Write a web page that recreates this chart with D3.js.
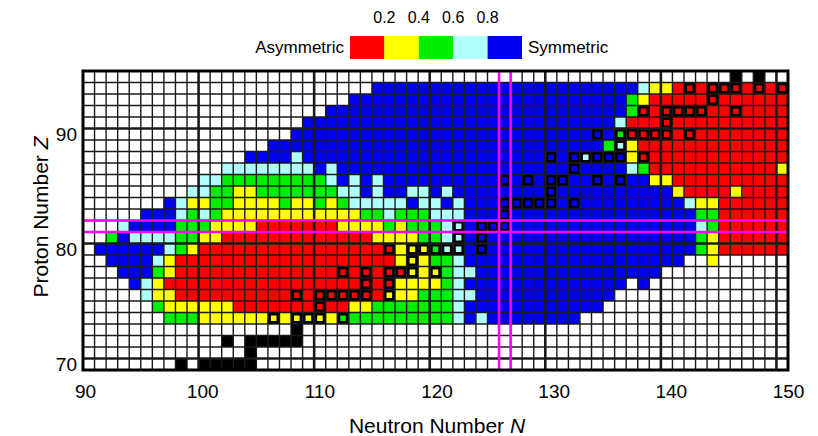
<!DOCTYPE html>
<html>
<head>
<meta charset="utf-8">
<script src="https://cdn.jsdelivr.net/npm/d3@7"></script>
<style>
  body { margin: 0; background: #fff; }
  svg { display: block; font-family: "Liberation Sans", Arial, sans-serif; }
</style>
</head>
<body>
<svg id="chart" width="818" height="436"></svg>
<script>
// Nuclide range shown on the chart
const neutronMin = 90, neutronMax = 150;
const protonMin = 70, protonMax = 95;

const xTickValues = [90, 100, 110, 120, 130, 140, 150];
const yTickValues = [70, 80, 90];

// Magic numbers marked by the magenta line pairs
const magicNeutrons = [126];
const magicProtons = [82];

// Symmetry classes (key -> colour) and the colour bar
const classKeys = ["R", "Y", "G", "C", "B"];
const classColors = ["#ff0000", "#ffff00", "#00ee00", "#b0ffff", "#0000f2"];
const legendTickLabels = ["0.2", "0.4", "0.6", "0.8"];

// One run-length encoded row per proton number, Z = 95 (top) to Z = 70 (bottom).
// Each row covers N = 90..150. Codes: "." no calculation, R/Y/G/C/B symmetry class,
// lower case = class of a nuclide with measured data (framed), K = filled black.
const rowZ95 = "56. K . K 2.";
const rowZ94 = "25. 23B C 2Y R r R 3r R r R r";
const rowZ93 = "23. 24B G Y 5R r 6R";
const rowZ92 = "21. 26B G r R 4r 2R r 4R";
const rowZ91 = "19. 27B C 3R r 10R";
const rowZ90 = "18. 26B b B g 4r R r 8R";
const rowZ89 = "16. 29B G c Y 13R";
const rowZ88 = "14. 4B C 21B b B b c 3b Y r 12R";
const rowZ87 = "12. 8C B C 20B b 4B C G 11R Y";
const rowZ86 = "10. 2C 9G C B C B C 10B b B b B 2b 2B b B b 2B 2Y 10R";
const rowZ85 = "9. 2C 2G 2Y 7G 2C B C 2B 2C B C 8B b 10B Y 4R Y 4R";
const rowZ84 = "7. B C 2Y 2G 4Y G 2Y G Y G 5C B 2C B C 3B 5b B b 9B C 2Y 6R";
const rowZ83 = "5. 3B C G C G 12Y 2G C 3G 3C 3B b 16B 2G 6R";
const rowZ82 = "3. C 4B 3G 4Y 7R 4Y G Y 3G C c B 3b 16B C G 6R";
const rowZ81 = "2. G B 4C 2G 2Y 13R 4Y 2G C c B b 18B G Y 6R";
const rowZ80 = ". 6B C G Y 16R r Y 2y g 2c B b 18B G Y 6R";
const rowZ79 = "2. 4B C Y 19R Y y Y 2G C 19B 2. Y 6.";
const rowZ78 = "3. 3B G Y 14R r R r R 2r y Y y G 2C 16B 11.";
const rowZ77 = "4. B C Y 17R r R r 4Y G C 14B . B 12.";
const rowZ76 = "5. C 2Y 10R r R 5r R y 2Y 3G 2C 12B 15.";
const rowZ75 = "6. G 6Y 7R r 2R 2Y 7G C 12B 16.";
const rowZ74 = "7. 3G 6Y y Y 3y Y g 9G C B C 8B 18.";
const rowZ73 = "18. K 42.";
const rowZ72 = "12. K . 5K 42.";
const rowZ71 = "14. K 46.";
const rowZ70 = "8. K . 5K 46.";

const chartRows = [rowZ95, rowZ94, rowZ93, rowZ92, rowZ91, rowZ90, rowZ89, rowZ88,
  rowZ87, rowZ86, rowZ85, rowZ84, rowZ83, rowZ82, rowZ81, rowZ80, rowZ79, rowZ78,
  rowZ77, rowZ76, rowZ75, rowZ74, rowZ73, rowZ72, rowZ71, rowZ70];

// ---------------------------------------------------------------------------
const svg = d3.select("#chart");

const x = d3.scaleLinear().domain([neutronMin - 0.5, neutronMax + 0.5]).range([83, 788]);
const y = d3.scaleLinear().domain([protonMin - 0.5, protonMax + 0.5]).range([370, 71]);
// tick labels sit on a slightly wider spacing than the cell columns
const xLabel = d3.scaleLinear().domain([neutronMin, neutronMax]).range([85, 788]);
const color = d3.scaleOrdinal().domain(classKeys).range(classColors);

function decodeRow(str) {
  const out = [];
  str.trim().split(/\s+/).forEach(tok => {
    const m = tok.match(/^(\d*)(.)$/);
    const n = m[1] === "" ? 1 : +m[1];
    for (let i = 0; i < n; i++) out.push(m[2]);
  });
  return out;
}

const cells = [];
chartRows.forEach((row, i) => {
  const z = protonMax - i;
  decodeRow(row).forEach((code, j) => {
    if (code !== ".") cells.push({ n: neutronMin + j, z, code });
  });
});

const cw = x(1) - x(0);
const ch = y(0) - y(1);
const plotLeft = x(neutronMin - 0.5), plotRight = x(neutronMax + 0.5);
const plotTop = y(protonMax + 0.5), plotBottom = y(protonMin - 0.5);

// plot background
svg.append("rect")
  .attr("x", plotLeft).attr("y", plotTop)
  .attr("width", plotRight - plotLeft).attr("height", plotBottom - plotTop)
  .attr("fill", "#fff");

const cellG = svg.append("g");
cellG.selectAll("rect.cell")
  .data(cells)
  .join("rect")
  .attr("class", "cell")
  .attr("x", d => x(d.n - 0.5))
  .attr("y", d => y(d.z + 0.5))
  .attr("width", cw)
  .attr("height", ch)
  .attr("fill", d => {
    if (d.code === "K") return "#000";
    if (d.code === d.code.toLowerCase()) return "#000";
    return color(d.code);
  });

// framed (measured) nuclides: small coloured square inside a black cell
const inner = 0.48;
cellG.selectAll("rect.mark")
  .data(cells.filter(d => d.code !== "K" && d.code === d.code.toLowerCase()))
  .join("rect")
  .attr("class", "mark")
  .attr("x", d => x(d.n) - cw * inner / 2)
  .attr("y", d => y(d.z) - ch * inner / 2)
  .attr("width", cw * inner)
  .attr("height", ch * inner)
  .attr("fill", d => color(d.code.toUpperCase()));

// grid
const gridG = svg.append("g");
const nLines = d3.range(neutronMin + 0.5, neutronMax + 0.5, 1);
const zLines = d3.range(protonMin + 0.5, protonMax + 0.5, 1);
gridG.selectAll("line.v")
  .data(nLines)
  .join("line")
  .attr("x1", d => x(d)).attr("x2", d => x(d))
  .attr("y1", plotTop).attr("y2", plotBottom)
  .attr("stroke", "#1a1a1a")
  .attr("stroke-width", d => (Math.round(d + 0.5) % 10 === 0) ? 2.6 : 1.4);
gridG.selectAll("line.h")
  .data(zLines)
  .join("line")
  .attr("y1", d => y(d)).attr("y2", d => y(d))
  .attr("x1", plotLeft).attr("x2", plotRight)
  .attr("stroke", "#1a1a1a")
  .attr("stroke-width", d => (Math.round(d - 0.5) % 10 === 0) ? 2.6 : 1.4);

// magic-number lines
const magicG = svg.append("g").attr("stroke", "#ff00ff").attr("stroke-width", 2.6);
magicNeutrons.forEach(n => {
  [n - 0.5, n + 0.5].forEach(v => {
    magicG.append("line")
      .attr("x1", x(v)).attr("x2", x(v))
      .attr("y1", plotTop).attr("y2", plotBottom);
  });
});
magicProtons.forEach(z => {
  [z - 0.5, z + 0.5].forEach(v => {
    magicG.append("line")
      .attr("y1", y(v)).attr("y2", y(v))
      .attr("x1", plotLeft).attr("x2", plotRight);
  });
});

// frame
svg.append("rect")
  .attr("x", plotLeft).attr("y", plotTop)
  .attr("width", plotRight - plotLeft).attr("height", plotBottom - plotTop)
  .attr("fill", "none").attr("stroke", "#000").attr("stroke-width", 3);

// axes
const xAxis = svg.append("g")
  .attr("transform", `translate(0,${plotBottom})`)
  .call(d3.axisBottom(xLabel).tickValues(xTickValues).tickSize(0).tickPadding(15).tickFormat(d3.format("d")));
const yAxis = svg.append("g")
  .attr("transform", `translate(${plotLeft},0)`)
  .call(d3.axisLeft(y).tickValues(yTickValues).tickSize(0).tickPadding(6).tickFormat(d3.format("d")));
[xAxis, yAxis].forEach(a => {
  a.select(".domain").remove();
  a.selectAll("text").attr("font-size", 19).attr("fill", "#000")
    .attr("font-family", "Liberation Sans, Arial, sans-serif");
});

// axis titles
const xt = svg.append("text")
  .attr("x", 437).attr("y", 433)
  .attr("text-anchor", "middle").attr("font-size", 21);
xt.append("tspan").text("Neutron Number ");
xt.append("tspan").attr("font-style", "italic").text("N");

const yt = svg.append("text")
  .attr("transform", "translate(48,217) rotate(-90)")
  .attr("text-anchor", "middle").attr("font-size", 21);
yt.append("tspan").text("Proton Number ");
yt.append("tspan").attr("font-style", "italic").text("Z");

// colour bar legend
const legendX = d3.scaleLinear().domain([0, classKeys.length]).range([350, 522]);
const legendG = svg.append("g");
legendG.selectAll("rect")
  .data(classKeys)
  .join("rect")
  .attr("x", (d, i) => legendX(i))
  .attr("y", 36)
  .attr("width", legendX(1) - legendX(0))
  .attr("height", 23)
  .attr("fill", d => color(d));
legendG.selectAll("text.tick")
  .data(legendTickLabels)
  .join("text")
  .attr("class", "tick")
  .attr("x", (d, i) => legendX(i + 1))
  .attr("y", 23)
  .attr("text-anchor", "middle")
  .attr("font-size", 16)
  .text(d => d);
legendG.append("text")
  .attr("x", 344).attr("y", 53)
  .attr("text-anchor", "end").attr("font-size", 17)
  .text("Asymmetric");
legendG.append("text")
  .attr("x", 528).attr("y", 53)
  .attr("text-anchor", "start").attr("font-size", 17)
  .text("Symmetric");
</script>
</body>
</html>
